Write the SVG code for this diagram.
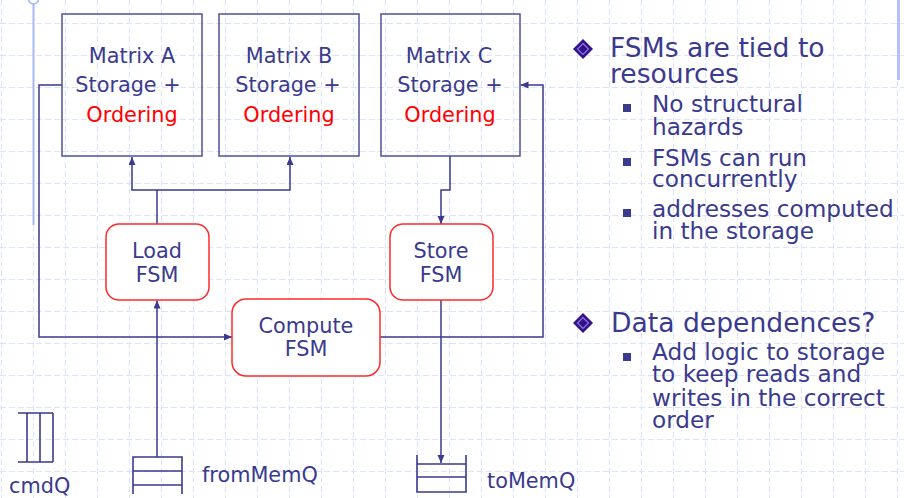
<svg xmlns="http://www.w3.org/2000/svg" width="904" height="498" viewBox="0 0 904 498">
<style>
text{font-family:"DejaVu Sans",Verdana,sans-serif;fill:#3a3a8e}
.node{font-size:20.8px;text-anchor:middle}
.red{fill:#ff0000}
.mbox{fill:none;stroke:#50509c;stroke-width:1.5}
.fsm{fill:#ffffff;stroke:#ff2a2a;stroke-width:1.5}
.conn{fill:none;stroke:#3a3a8e;stroke-width:1.5}
.q{fill:none;stroke:#3a3a8e;stroke-width:1.6}
.grid{fill:none;stroke:#dce3fc;stroke-width:1;stroke-dasharray:6 3}
.t1{font-size:26.6px}
.t2{font-size:23.2px}
.sq{fill:#3a3a8e}
.dia{fill:#34108c}
.diai{fill:none;stroke:#8a7ad6;stroke-width:1.2}
</style>
<defs>
<marker id="arr" markerUnits="userSpaceOnUse" markerWidth="9" markerHeight="8" refX="8" refY="3.5" orient="auto">
<path d="M0,0 L8,3.5 L0,7 z" fill="#3a3a8e"/>
</marker>
</defs>
<rect width="904" height="498" fill="#ffffff"/>
<path class="grid" d="M0,23.5H904M0,55.5H904M0,87.5H904M0,119.5H904M0,151.5H904M0,183.5H904M0,215.5H904M0,247.5H904M0,279.5H904M0,311.5H904M0,343.5H904M0,375.5H904M0,407.5H904M0,439.5H904M0,471.5H904M1.5,0V498M33.5,0V498M65.5,0V498M97.5,0V498M129.5,0V498M161.5,0V498M193.5,0V498M225.5,0V498M257.5,0V498M289.5,0V498M321.5,0V498M353.5,0V498M385.5,0V498M417.5,0V498M449.5,0V498M481.5,0V498M513.5,0V498M545.5,0V498M577.5,0V498M609.5,0V498M641.5,0V498M673.5,0V498M705.5,0V498M737.5,0V498M769.5,0V498M801.5,0V498M833.5,0V498M865.5,0V498M897.5,0V498"/>
<g id="decor">
<line x1="33.5" y1="0" x2="33.5" y2="225" stroke="#a9b6f2" stroke-width="2"/>
<circle cx="33.5" cy="-1" r="5" fill="#ffffff" stroke="#a9b6f2" stroke-width="1.5"/>
<line x1="898.5" y1="0" x2="898.5" y2="80" stroke="#b3c0fb" stroke-width="3"/>
</g>
<g id="connectors">
<path class="conn" d="M157,224 V190 H132 V157" marker-end="url(#arr)"/>
<path class="conn" d="M157,190 H290 V157" marker-end="url(#arr)"/>
<path class="conn" d="M450,156 V190 H441 V224" marker-end="url(#arr)"/>
<path class="conn" d="M441,300 V463" marker-end="url(#arr)"/>
<path class="conn" d="M157,457 V300.5" marker-end="url(#arr)"/>
<path class="conn" d="M62,85 H39 V337 H232" marker-end="url(#arr)"/>
<path class="conn" d="M380,337 H543 V85 H520.5" marker-end="url(#arr)"/>
</g>
<g id="matrixA">
<rect class="mbox" x="62" y="14" width="140" height="142"/>
<text class="node" x="132" y="63">Matrix A</text>
<text class="node" x="128" y="92">Storage +</text>
<text class="node red" x="132" y="122">Ordering</text>
</g>
<g id="matrixB">
<rect class="mbox" x="219" y="14" width="140" height="142"/>
<text class="node" x="289" y="63">Matrix B</text>
<text class="node" x="288" y="92">Storage +</text>
<text class="node red" x="289" y="122">Ordering</text>
</g>
<g id="matrixC">
<rect class="mbox" x="381" y="14" width="139" height="142"/>
<text class="node" x="449" y="63">Matrix C</text>
<text class="node" x="450" y="92">Storage +</text>
<text class="node red" x="450" y="122">Ordering</text>
</g>
<g id="loadFSM">
<rect class="fsm" x="106" y="224" width="103" height="76" rx="13"/>
<text class="node" x="157" y="258">Load</text>
<text class="node" x="157" y="282">FSM</text>
</g>
<g id="storeFSM">
<rect class="fsm" x="390" y="224" width="103" height="76" rx="13"/>
<text class="node" x="441" y="258">Store</text>
<text class="node" x="441" y="282">FSM</text>
</g>
<g id="computeFSM">
<rect class="fsm" x="232" y="299" width="148" height="77" rx="14"/>
<text class="node" x="306" y="333">Compute</text>
<text class="node" x="306" y="356">FSM</text>
</g>
<g id="cmdQ">
<path class="q" d="M18,413 H53 M18,462 H53 M27,413 V462 M40,413 V462 M53,413 V462"/>
<text x="9" y="493" style="font-size:20.8px">cmdQ</text>
</g>
<g id="fromMemQ">
<path class="q" d="M133,494 V457 H182 V494 M133,471 H182 M133,485 H182"/>
<text x="202" y="482" style="font-size:20.8px">fromMemQ</text>
</g>
<g id="toMemQ">
<path class="q" d="M417,455 V492 H466 V455 M417,464 H466 M417,477 H466"/>
<text x="487" y="488" style="font-size:20.8px">toMemQ</text>
</g>
<g id="bullets">
<polygon class="dia" points="583,39 593,49 583,59 573,49"/>
<polygon class="diai" points="583,43.5 588.5,49 583,54.5 577.5,49"/>
<text class="t1" x="610" y="57">FSMs are tied to</text>
<text class="t1" x="610" y="83">resources</text>
<rect class="sq" x="623" y="104" width="8" height="8"/>
<text class="t2" x="652" y="112">No structural</text>
<text class="t2" x="652" y="135">hazards</text>
<rect class="sq" x="623" y="158" width="8" height="8"/>
<text class="t2" x="652" y="166">FSMs can run</text>
<text class="t2" x="652" y="187">concurrently</text>
<rect class="sq" x="623" y="209" width="8" height="8"/>
<text class="t2" x="652" y="217">addresses computed</text>
<text class="t2" x="652" y="239">in the storage</text>
<polygon class="dia" points="583,313 593,323 583,333 573,323"/>
<polygon class="diai" points="583,317.5 588.5,323 583,328.5 577.5,323"/>
<text class="t1" x="611" y="332">Data dependences?</text>
<rect class="sq" x="623" y="353" width="8" height="8"/>
<text class="t2" x="652" y="360">Add logic to storage</text>
<text class="t2" x="652" y="382">to keep reads and</text>
<text class="t2" x="652" y="406">writes in the correct</text>
<text class="t2" x="652" y="428">order</text>
</g>
</svg>
